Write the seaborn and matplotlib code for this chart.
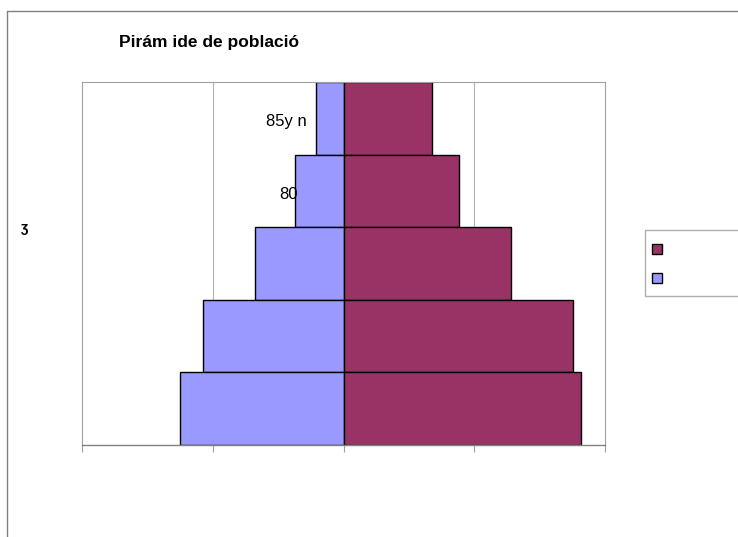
import matplotlib.pyplot as plt
import matplotlib.patches as mpatches
import matplotlib.lines as mlines
import numpy as np
import pandas as pd
import seaborn as sns

# age groups, top to bottom
age_groups = ['85y n', '80', '75', '70', '65']
shown_labels = ['85y n', '80', '', '', '']
label_x = [-1.41, -1.76, 0, 0, 0]
homes = [1.07, 1.87, 3.40, 5.39, 6.27]
dones = [3.40, 4.40, 6.39, 8.76, 9.10]

color_homes = '#9999FF'
color_dones = '#993366'

df = pd.DataFrame({'edat': age_groups, 'homes': [-v for v in homes], 'dones': dones})

sns.set_style('white')
plt.rcParams['font.family'] = ['Liberation Sans', 'DejaVu Sans']

fig = plt.figure(figsize=(7.38, 5.37), dpi=100)
W, H = 738, 537
ax = fig.add_axes([82 / W, 1 - 445 / H, (605 - 82) / W, (445 - 82) / H])

for s in [-5, 5]:
    ax.axvline(s, color='#b0b0b0', lw=0.8, zorder=0)

sns.barplot(data=df, y='edat', x='homes', order=age_groups, orient='h', color=color_homes,
            saturation=1, width=1.0, edgecolor='black', linewidth=1, ax=ax, zorder=2)
sns.barplot(data=df, y='edat', x='dones', order=age_groups, orient='h', color=color_dones,
            saturation=1, width=1.0, edgecolor='black', linewidth=1, ax=ax, zorder=2)

ax.set_xlim(-10, 10)
ax.set_ylim(4.5, -0.5)
ax.set_xticks([-10, -5, 0, 5, 10])
ax.set_xticklabels([])
ax.set_yticks([])
ax.set_xlabel('')
ax.set_ylabel('')
ax.tick_params(axis='x', direction='out', length=5, width=0.8, color='#a0a0a0', bottom=True)
for side in ['left', 'right', 'top']:
    ax.spines[side].set_color('#a0a0a0')
    ax.spines[side].set_linewidth(0.8)
ax.spines['bottom'].set_color('#808080')
ax.spines['bottom'].set_linewidth(1.0)

for i, lab in enumerate(shown_labels):
    if lab:
        ax.text(label_x[i], i + 0.05, lab, ha='right', va='center', fontsize=12,
                color='black', zorder=5)

fig.text(119 / W, 1 - 42 / H, 'Pirám ide de població', fontsize=12.5, fontweight='bold',
         color='black', ha='left', va='center')
fig.text(25 / W, 1 - 228 / H, 'ʒ', fontsize=10, fontweight='bold', color='black',
         ha='center', va='center')

# outer chart border
fig.add_artist(mlines.Line2D([7 / W, 1.0], [1 - 11 / H, 1 - 11 / H], color='#808080', lw=1))
fig.add_artist(mlines.Line2D([7 / W, 7 / W], [0, 1 - 11 / H], color='#808080', lw=1))

# legend box (clipped at right edge)
fig.add_artist(mpatches.Rectangle((645 / W, 1 - 296 / H), 100 / W, 66 / H, transform=fig.transFigure,
                                  facecolor='white', edgecolor='#b0b0b0', lw=1))
for yy, c in [(249, color_dones), (278, color_homes)]:
    fig.add_artist(mpatches.Rectangle((652 / W, 1 - (yy + 5) / H), 10 / W, 10 / H,
                                      transform=fig.transFigure, facecolor=c,
                                      edgecolor='black', lw=1))

fig.savefig('out.png', dpi=100)
